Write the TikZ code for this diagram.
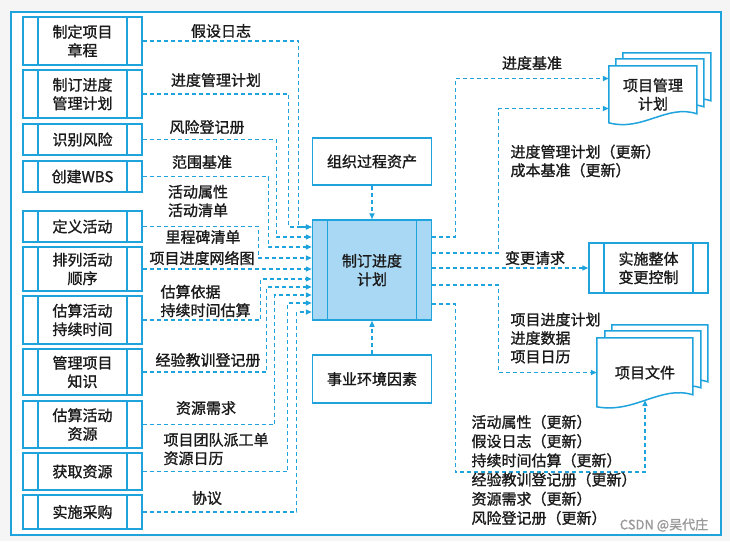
\documentclass[tikz,border=0pt]{standalone}
\usepackage{fontspec}
\setmainfont{Noto Sans CJK SC}[FakeBold=1.2]
\usetikzlibrary{arrows.meta,backgrounds}
\definecolor{pmline}{HTML}{1FA3DD}
\definecolor{pmfill}{HTML}{A9D8F4}
\definecolor{pmtext}{HTML}{1A1A1A}
\tikzset{
x=1pt, y=-1pt,
>={Triangle[length=6pt,width=5pt]},
every node/.style={font=\fontsize{15}{18.5}\selectfont, text=pmtext, align=center},
flow/.style={->, pmline, line width=1.4pt, dash pattern=on 4pt off 3pt},
box/.style={draw=pmline, line width=1.5pt, fill=white, minimum width=119pt, inner sep=0pt},
proc/.style={box, path picture={\draw[pmline, line width=1.5pt]
  ([xshift=15pt]path picture bounding box.north west) -- ([xshift=15pt]path picture bounding box.south west)
  ([xshift=-15pt]path picture bounding box.north east) -- ([xshift=-15pt]path picture bounding box.south east);}},
docnode/.style={inner sep=0pt},
docline/.style={pmline, line width=1.5pt, fill=white},
}

\begin{document}
\begin{tikzpicture}
    \useasboundingbox (0,0) rectangle (730,541);

    % left: source processes
    \node[proc,minimum height=48pt] (zc) at (82.5,41) {制定项目\\章程};
    \node[proc,minimum height=48pt] (sgp) at (82.5,94) {制订进度\\管理计划};
    \node[proc,minimum height=31pt] (risk) at (82.5,139.5) {识别风险};
    \node[proc,minimum height=31pt] (wbs) at (82.5,176.5) {创建WBS};
    \node[proc,minimum height=31pt] (defact) at (82.5,226.5) {定义活动};
    \node[proc,minimum height=44pt] (seq) at (82.5,269) {排列活动\\顺序};
    \node[proc,minimum height=48pt] (dur) at (82.5,320) {估算活动\\持续时间};
    \node[proc,minimum height=46pt] (know) at (82.5,372) {管理项目\\知识};
    \node[proc,minimum height=47pt] (res) at (82.5,424.5) {估算活动\\资源};
    \node[proc,minimum height=37pt] (acq) at (82.5,471.5) {获取资源};
    \node[proc,minimum height=34pt] (proc) at (82.5,512) {实施采购};

    % centre
    \node[proc,fill=pmfill,minimum height=100pt] (plan) at (372,270) {制订进度\\计划};
    \node[box,minimum height=47pt] (opa) at (372,161.5) {组织过程资产};
    \node[box,minimum height=48pt] (eef) at (372,379) {事业环境因素};

    % right: targets
    \node[docnode,minimum width=88pt,minimum height=57pt] (pmp) at (653,94.5) {项目管理\\计划};
    \node[proc,minimum height=50pt] (cc) at (648.5,268) {实施整体\\变更控制};
    \node[docnode,minimum width=96pt,minimum height=69pt] (docs) at (645,372.5) {项目文件};

    \begin{scope}[on background layer]
        \fill[black!4] (0,0) rectangle (730,541);
        \draw[pmline, line width=2pt, fill=white] (11,12) rectangle (721,535);
        \begin{scope}[shift={(pmp.north west)}]
            \foreach \dx/\dy in {14/13,7/7,0/0}
                \draw[docline, shift={(\dx,-\dy)}] (0,0) -- (88,0) -- (88,48)
                    .. controls (58,38) and (34,66) .. (0,57) -- cycle;
        \end{scope}
        \begin{scope}[shift={(docs.north west)}]
            \foreach \dx/\dy in {15/13,8/7,0/0}
                \draw[docline, shift={(\dx,-\dy)}] (0,0) -- (96,0) -- (96,57)
                    .. controls (64,47) and (38,76) .. (0,69) -- cycle;
        \end{scope}
    \end{scope}

    % inputs
    \coordinate (in1) at ([yshift=43pt]plan.west);
    \coordinate (in2) at ([yshift=33pt]plan.west);
    \coordinate (in3) at ([yshift=23pt]plan.west);
    \coordinate (in4) at ([yshift=12pt]plan.west);
    \coordinate (in5) at ([yshift=1pt]plan.west);
    \coordinate (in6) at ([yshift=-9pt]plan.west);
    \coordinate (in7) at ([yshift=-17pt]plan.west);
    \coordinate (in8) at ([yshift=-25pt]plan.west);
    \coordinate (in9) at ([yshift=-33pt]plan.west);
    \coordinate (in10) at ([yshift=-42pt]plan.west);

    \draw[flow] (zc.east) -| ([xshift=-13pt]in1) -- (in1);
    \draw[flow] (sgp.east) -| ([xshift=-23pt]in1) -- (in1);
    \draw[flow] (risk.east) -| ([xshift=-35pt]in2) -- (in2);
    \draw[flow] (wbs.east) -| ([xshift=-43pt]in3) -- (in3);
    \draw[flow] (defact.east) -| ([xshift=-53pt]in4) -- (in4);
    \draw[flow] (seq.east) -- (in5);
    \draw[flow] (dur.east) -| ([xshift=-51pt]in6) -- (in6);
    \draw[flow] (know.east) -| ([xshift=-45pt]in7) -- (in7);
    \draw[flow] (res.east) -| ([xshift=-37pt]in8) -- (in8);
    \draw[flow] (acq.east) -| ([xshift=-24pt]in9) -- (in9);
    \draw[flow] (proc.east) -| ([xshift=-15pt]in10) -- (in10);
    \draw[flow] (opa) -- (plan);
    \draw[flow] (eef) -- (plan);

    % outputs
    \draw[flow] ([yshift=33pt]plan.east) -- ++(23,0) |- ([yshift=16pt]pmp.west);
    \draw[flow] ([yshift=17pt]plan.east) -- ++(66,0) |- ([yshift=-14pt]pmp.west);
    \draw[flow] (plan.east |- cc.west) -- (cc.west);
    \draw[flow] ([yshift=-15pt]plan.east) -- ++(66,0) |- (docs.west);
    \draw[flow] ([yshift=-34pt]plan.east) -- ++(23,0) -- ++(0,168) -| ([yshift=7pt]docs.south);

    % labels
    \node (l-assump) at (221,31) {假设日志};
    \node (l-sgp) at (216,80) {进度管理计划};
    \node (l-risk) at (207,127) {风险登记册};
    \node (l-scope) at (202,162) {范围基准};
    \node (l-act) at (198,201) {活动属性\\活动清单};
    \node (l-mile) at (203,237) {里程碑清单};
    \node (l-net) at (202,258) {项目进度网络图};
    \node[anchor=west,align=left] (l-dur) at (157,301) {估算依据\\持续时间估算};
    \node (l-know) at (208,360) {经验教训登记册};
    \node (l-res) at (206,408) {资源需求};
    \node[anchor=west,align=left] (l-team) at (160,449) {项目团队派工单\\资源日历};
    \node (l-agree) at (207,498) {协议};
    \node (l-base) at (532,63) {进度基准};
    \node[anchor=west,align=left] (l-upd) at (507,161) {进度管理计划（更新）\\成本基准（更新）};
    \node (l-chg) at (535,258) {变更请求};
    \node[anchor=west,align=left] (l-sched) at (507,338) {项目进度计划\\进度数据\\项目日历};
    \node[anchor=west,align=left,font=\fontsize{15}{19.2}\selectfont] (l-docupd) at (468,470)
        {活动属性（更新）\\假设日志（更新）\\持续时间估算（更新）\\经验教训登记册（更新）\\资源需求（更新）\\风险登记册（更新）};
    \node[text=black!40,font=\fontsize{13}{13}\selectfont] (wm) at (664,525) {CSDN @吴代庄};

\end{tikzpicture}
\end{document}
